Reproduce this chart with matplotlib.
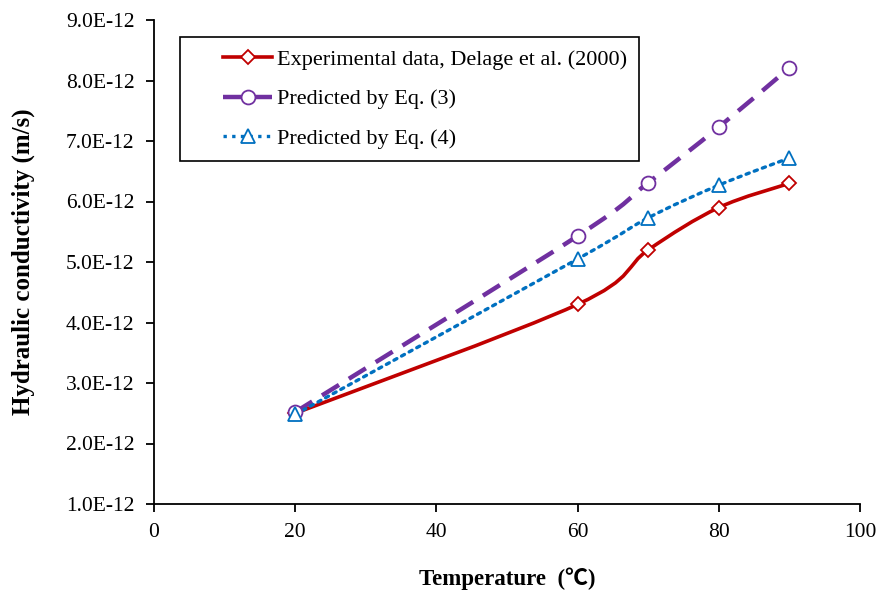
import matplotlib
matplotlib.use("Agg")
import matplotlib.pyplot as plt
from matplotlib.path import Path
from matplotlib.patches import PathPatch
from matplotlib.lines import Line2D
from matplotlib.legend_handler import HandlerLine2D
from matplotlib.ticker import FuncFormatter, MultipleLocator

plt.rcParams['font.family'] = ['Liberation Serif', 'Noto Sans CJK SC', 'DejaVu Sans']

temperature = [20, 60, 70, 80, 90]
k_experimental = [2.50e-12, 4.30e-12, 5.20e-12, 5.90e-12, 6.30e-12]
k_eq3 = [2.52e-12, 5.43e-12, 6.31e-12, 7.23e-12, 8.21e-12]
k_eq4 = [2.48e-12, 5.05e-12, 5.73e-12, 6.27e-12, 6.72e-12]

labels = ["Experimental data, Delage et al. (2000)",
          "Predicted by Eq. (3)",
          "Predicted by Eq. (4)"]

RED = "#C00000"
PURPLE = "#7030A0"
BLUE = "#0070C0"


def smooth_path(xs, ys):
    """Catmull-Rom style cubic Bezier path through the given points."""
    pts = list(zip(xs, ys))
    verts = [pts[0]]
    codes = [Path.MOVETO]
    n = len(pts)
    for i in range(n - 1):
        p0 = pts[i - 1] if i > 0 else pts[i]
        p1 = pts[i]
        p2 = pts[i + 1]
        p3 = pts[i + 2] if i + 2 < n else pts[i + 1]
        c1 = (p1[0] + (p2[0] - p0[0]) / 6, p1[1] + (p2[1] - p0[1]) / 6)
        c2 = (p2[0] - (p3[0] - p1[0]) / 6, p2[1] - (p3[1] - p1[1]) / 6)
        verts += [c1, c2, p2]
        codes += [Path.CURVE4] * 3
    return Path(verts, codes)


class IndentedLineHandler(HandlerLine2D):
    """Legend line handler that leaves a blank indent before the sample line."""

    def __init__(self, indent, **kw):
        super().__init__(**kw)
        self.indent = indent

    def create_artists(self, legend, orig_handle, xdescent, ydescent,
                       width, height, fontsize, trans):
        return super().create_artists(legend, orig_handle,
                                      xdescent - self.indent, ydescent,
                                      width - self.indent, height,
                                      fontsize, trans)


fig = plt.figure(figsize=(8.82, 5.92), dpi=100)
ax = fig.add_axes([154 / 882, 1 - 504 / 592, 706 / 882, 484 / 592])

series = [
    (k_experimental, RED, "-", "D", 7, 2.6),
    (k_eq3, PURPLE, (0, (4.5, 2.6)), "o", 10, 3.2),
    (k_eq4, BLUE, (0, (1, 1.6)), "^", 10, 2.4),
]

handles = []
for (vals, color, ls, marker, ms, lw), lab in zip(series, labels):
    patch = PathPatch(smooth_path(temperature, vals), fill=False,
                      edgecolor=color, linewidth=lw, linestyle=ls,
                      capstyle='round' if marker == "^" else 'butt',
                      zorder=2)
    ax.add_patch(patch)
    ax.plot(temperature, vals, linestyle='none', marker=marker,
            markersize=ms, markerfacecolor='white', markeredgecolor=color,
            markeredgewidth=1.3, zorder=3)
    handles.append(Line2D([], [], color=color, linestyle=ls, linewidth=lw,
                          marker=marker, markersize=ms,
                          markerfacecolor='white', markeredgecolor=color,
                          markeredgewidth=1.3))

ax.set_xlim(0, 100)
ax.set_ylim(1e-12, 9e-12)
ax.xaxis.set_major_locator(MultipleLocator(20))
ax.yaxis.set_major_locator(MultipleLocator(1e-12))
ax.yaxis.set_major_formatter(FuncFormatter(lambda v, p: f"{v * 1e12:.1f}E-12"))

for side in ("top", "right"):
    ax.spines[side].set_visible(False)
for side in ("left", "bottom"):
    ax.spines[side].set_linewidth(1.3)
ax.tick_params(direction='out', length=6, width=1.3, labelsize=15.5,
               colors='black', pad=8)

ax.set_xlabel("Temperature  (\u2103)", fontsize=16.5, fontweight='bold', labelpad=18)
ax.set_ylabel("Hydraulic conductivity (m/s)", fontsize=18, fontweight='bold', labelpad=22)

fs = 16
indent = 22
handler = IndentedLineHandler(indent)
leg = ax.legend(handles, labels, loc='upper left',
                bbox_to_anchor=(26 / 706, 467 / 484), borderaxespad=0,
                fontsize=fs, frameon=True, fancybox=False,
                edgecolor='black', handlelength=(58 + indent) / (fs * 100 / 72),
                handletextpad=0.2, borderpad=0.55, labelspacing=0.86,
                handler_map={h: handler for h in handles})
leg.get_frame().set_linewidth(1.2)
leg.get_frame().set_alpha(1)

fig.savefig("out.png", dpi=100)
